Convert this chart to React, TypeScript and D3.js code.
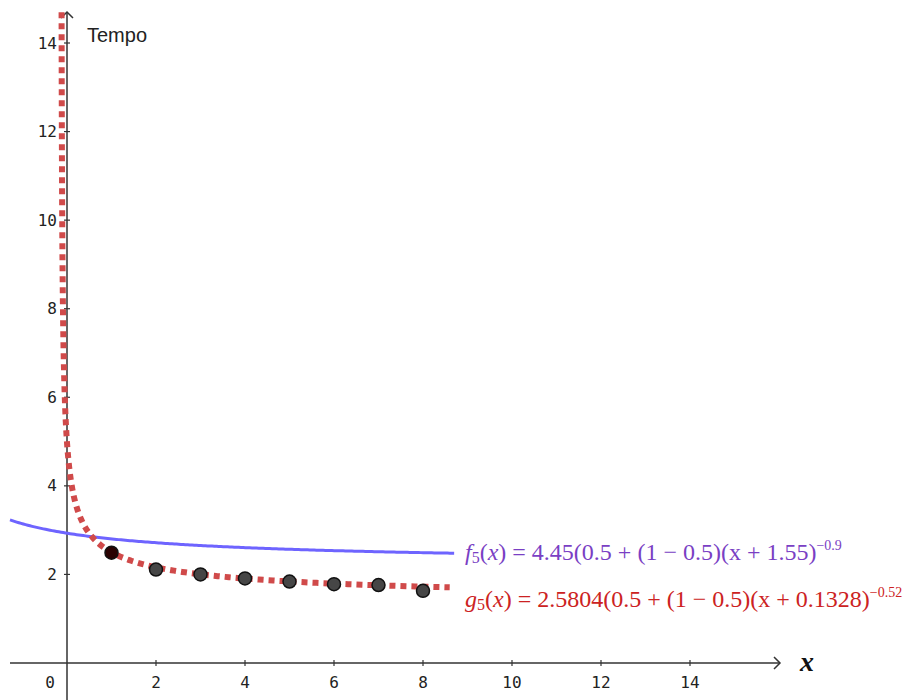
import React from "react";
import * as d3 from "d3";

// observed data points (x = 1..8)
const pointX = [1, 2, 3, 4, 5, 6, 7, 8];
const pointY = [2.49, 2.11, 2.0, 1.91, 1.84, 1.78, 1.76, 1.63];

// tick labels
const xTicks = [2, 4, 6, 8, 10, 12, 14];
const yTicks = [2, 4, 6, 8, 10, 12, 14];

// model parameters (g5 as written; f5 as drawn in the picture)
const gParams = { a: 2.5804, c: 0.1328, p: 0.52 };
const fParams = { a: 4.45, c: 3.8, p: 0.86 };

const fLabel = { name: "f", idx: "5", body: " = 4.45(0.5 + (1 − 0.5)(x + 1.55)", exp: "−0.9" };
const gLabel = { name: "g", idx: "5", body: " = 2.5804(0.5 + (1 − 0.5)(x + 0.1328)", exp: "−0.52" };

const W = 916;
const H = 700;

const model = (pr: { a: number; c: number; p: number }) => (x: number) =>
  pr.a * (0.5 + 0.5 * Math.pow(x + pr.c, -pr.p));

export default function App() {
  const x = d3.scaleLinear().domain([0, 14]).range([67, 690]);
  const y = d3.scaleLinear().domain([0, 14]).range([663, 43]);

  const xMin = x.invert(10);
  const yTop = 12;

  const f = model(fParams);
  const g = model(gParams);

  const fXs = d3.range(0, 201).map((i) => xMin + (i / 200) * (8.7 - xMin));
  const gXs = d3.range(0, 301).map((i) => {
    const t = Math.log10(0.008) + (i / 300) * (Math.log10(8.6 + gParams.c) - Math.log10(0.008));
    return -gParams.c + Math.pow(10, t);
  });

  const fPath = d3
    .line<number>()
    .x((d) => x(d))
    .y((d) => y(f(d)))(fXs) || "";
  const gPath = d3
    .line<number>()
    .x((d) => x(d))
    .y((d) => y(g(d)))(gXs) || "";

  const axisColor = "#333";
  const tickFont = "'DejaVu Sans Mono', monospace";
  const mathFont = "'Liberation Serif', 'DejaVu Serif', serif";

  const renderLabel = (
    lb: { name: string; idx: string; body: string; exp: string },
    color: string,
    yy: number
  ) => (
    <text x={465} y={yy} fill={color} fontFamily={mathFont} fontSize={24}>
      <tspan fontStyle="italic">{lb.name}</tspan>
      <tspan fontSize={16} dy={3}>{lb.idx}</tspan>
      <tspan dy={-3}>(</tspan>
      <tspan fontStyle="italic">x</tspan>
      <tspan>{")" + lb.body}</tspan>
      <tspan fontSize={14} dy={-10}>{lb.exp}</tspan>
    </text>
  );

  return (
    <svg
      width={W}
      height={H}
      style={{ position: "absolute", left: 0, top: 0, background: "#fff" }}
    >
      <defs>
        <clipPath id="plotClip">
          <rect x={0} y={yTop} width={W} height={H - yTop} />
        </clipPath>
      </defs>
      <rect x={0} y={0} width={W} height={H} fill="#fff" />

      {/* axes */}
      <line x1={10} x2={780} y1={y(0)} y2={y(0)} stroke={axisColor} strokeWidth={1.5} />
      <path
        d={`M${774},${y(0) - 6} L${780},${y(0)} L${774},${y(0) + 6}`}
        fill="none"
        stroke={axisColor}
        strokeWidth={1.5}
      />
      <line x1={x(0)} x2={x(0)} y1={H} y2={yTop} stroke={axisColor} strokeWidth={1.5} />
      <path
        d={`M${x(0) - 6},${yTop + 6} L${x(0)},${yTop} L${x(0) + 6},${yTop + 6}`}
        fill="none"
        stroke={axisColor}
        strokeWidth={1.5}
      />

      {/* x ticks */}
      {xTicks.map((t) => (
        <g key={"xt" + t}>
          <line x1={x(t)} x2={x(t)} y1={y(0) - 3} y2={y(0) + 3} stroke={axisColor} strokeWidth={1.2} />
          <text
            x={x(t)}
            y={682}
            textAnchor="middle"
            dominantBaseline="central"
            fontFamily={tickFont}
            fontSize={16}
            fill="#222"
          >
            {t}
          </text>
        </g>
      ))}
      <text x={50} y={682} textAnchor="middle" dominantBaseline="central" fontFamily={tickFont} fontSize={16} fill="#222">
        0
      </text>

      {/* y ticks */}
      {yTicks.map((t) => (
        <g key={"yt" + t}>
          <line x1={x(0) - 3} x2={x(0) + 3} y1={y(t)} y2={y(t)} stroke={axisColor} strokeWidth={1.2} />
          <text
            x={57}
            y={y(t)}
            textAnchor="end"
            dominantBaseline="central"
            fontFamily={tickFont}
            fontSize={16}
            fill="#222"
          >
            {t}
          </text>
        </g>
      ))}

      {/* axis labels */}
      <text x={87} y={42} fontFamily="'Liberation Sans', Arial, sans-serif" fontSize={21} fill="#222" textLength={60} lengthAdjust="spacingAndGlyphs">
        Tempo
      </text>
      <text x={800} y={671} fontFamily={mathFont} fontStyle="italic" fontWeight="bold" fontSize={28} fill="#111">
        x
      </text>

      {/* curves */}
      <g clipPath="url(#plotClip)">
        <path d={fPath} fill="none" stroke="#6e64ff" strokeWidth={3} />
        <path
          d={gPath}
          fill="none"
          stroke="#d04a4a"
          strokeWidth={6}
          strokeDasharray="6 5"
        />
      </g>

      {/* points */}
      {pointX.map((px, i) => (
        <circle
          key={"p" + px}
          cx={x(px)}
          cy={y(pointY[i])}
          r={6.5}
          fill={i === 0 ? "#2a0202" : "#464646"}
          stroke="#111"
          strokeWidth={1.5}
        />
      ))}

      {/* formula labels */}
      {renderLabel(fLabel, "#7a3fc4", 560)}
      {renderLabel(gLabel, "#cc2222", 607)}
    </svg>
  );
}
